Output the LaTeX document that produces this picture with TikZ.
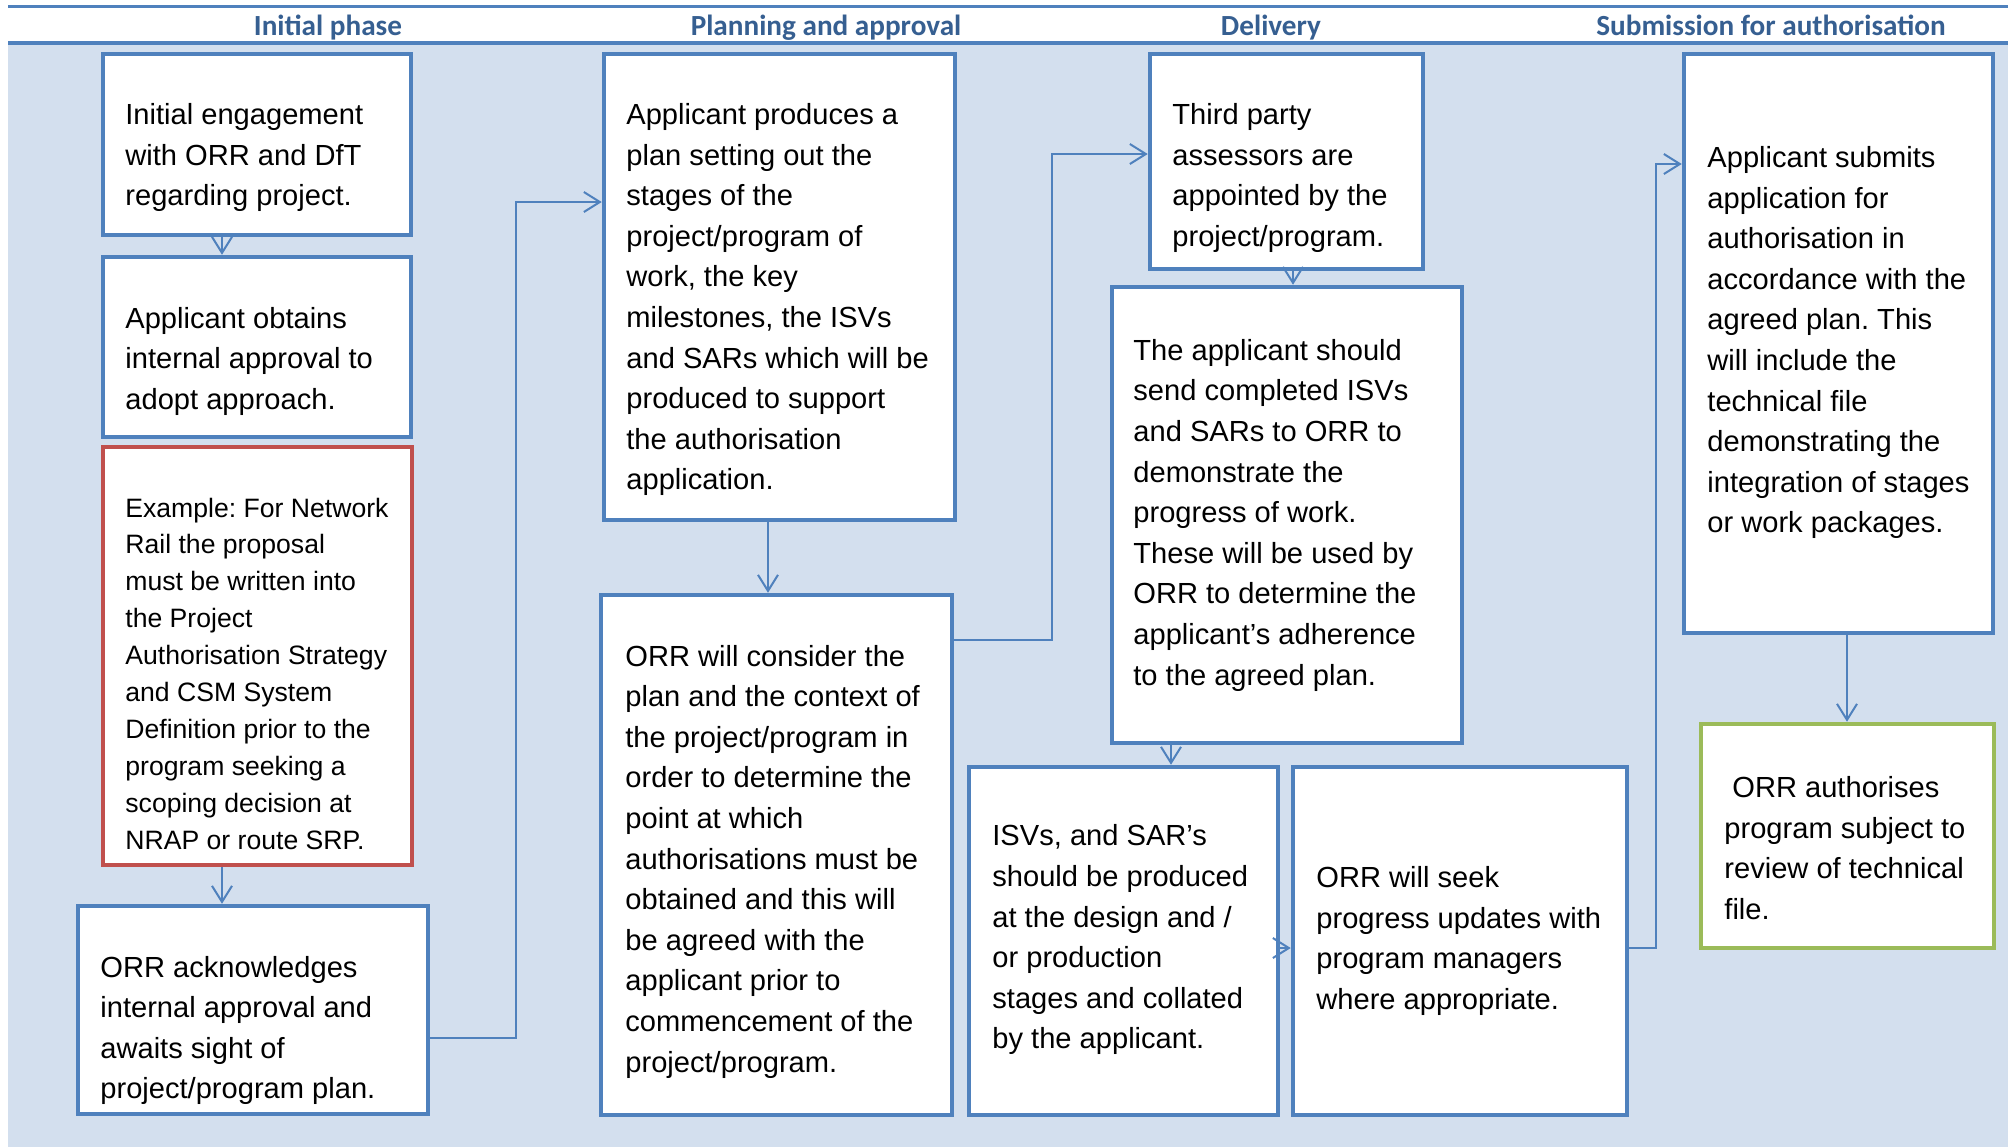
\documentclass[tikz,border=0pt]{standalone}
\usepackage{fontspec}
\setmainfont{Liberation Sans}
\newfontfamily\hdrfont{Carlito}
\usetikzlibrary{arrows.meta,fit}
\definecolor{bgblue}{HTML}{D3DFEE}
\definecolor{boxblue}{HTML}{4F81BD}
\definecolor{boxred}{HTML}{C0504D}
\definecolor{boxgreen}{HTML}{9BBB59}
\definecolor{hdrblue}{HTML}{365F91}
\frenchspacing
\begin{document}
\begin{tikzpicture}[x=0.5pt,y=-0.5pt,
  bx/.style={draw=boxblue, line width=2.25pt, fill=white, inner sep=0pt},
  bxred/.style={bx, draw=boxred},
  bxgreen/.style={bx, draw=boxgreen},
  txt/.style={anchor=north west, inner sep=0pt, align=left, text=black,
    font=\fontsize{14.55}{20.3}\selectfont\frenchspacing},
  txtsmall/.style={txt, font=\fontsize{13.3}{18.45}\selectfont\frenchspacing},
  hdr/.style={anchor=base, inner sep=0pt, text=hdrblue,
    font=\hdrfont\bfseries\fontsize{14.6}{17}\selectfont},
  arr/.style={draw=boxblue, line width=1pt, -{Straight Barb[length=8pt,width=10pt,line width=1pt]}},
]
\useasboundingbox (0,0) rectangle (2015,1147);
% background and header band
\fill[bgblue] (8,43) rectangle (2008,1147);
\fill[white] (8,6) rectangle (2008,43);
\draw[boxblue, line width=1.5pt] (8,6) -- (2008,6);
\draw[boxblue, line width=1.6pt] (8,43) -- (2008,43);
\node[hdr] (h1) at (328,35.5) {Initial phase};
\node[hdr] (h2) at (826,35.5) {Planning and approval};
\node[hdr] (h3) at (1271,35.5) {Delivery};
\node[hdr] (h4) at (1771,35.5) {Submission for authorisation};

% boxes
\node[bx, fit={(103,54) (411,235)}] (A) {};
\node[bx, fit={(103,257) (411,437)}] (B) {};
\node[bxred, fit={(103,447) (412,865)}] (C) {};
\node[bx, fit={(78,906) (428,1114)}] (D) {};
\node[bx, fit={(604,54) (955,520)}] (E) {};
\node[bx, fit={(601,595) (952,1115)}] (F) {};
\node[bx, fit={(1150,54) (1423,269)}] (G) {};
\node[bx, fit={(1112,287) (1462,743)}] (H) {};
\node[bx, fit={(969,767) (1278,1115)}] (I) {};
\node[bx, fit={(1293,767) (1627,1115)}] (J) {};
\node[bx, fit={(1684,54) (1993,633)}] (K) {};
\node[bxgreen, fit={(1701,724) (1994,948)}] (L) {};

% texts
\node[txt] (tA) at (125,95.6) {\strut Initial engagement\\with ORR and DfT\\regarding project.};
\node[txt] (tB) at (125,299.3) {\strut Applicant obtains\\internal approval to\\adopt approach.};
\node[txtsmall] (tC) at (125,490.8) {\strut Example: For Network\\Rail the proposal\\must be written into\\the Project\\Authorisation Strategy\\and CSM System\\Definition prior to the\\program seeking a\\scoping decision at\\NRAP or route SRP.};
\node[txt] (tD) at (100,948.2) {\strut ORR acknowledges\\internal approval and\\awaits sight of\\project/program plan.};
\node[txt] (tE) at (626,95.6) {\strut Applicant produces a\\plan setting out the\\stages of the\\project/program of\\work, the key\\milestones, the ISVs\\and SARs which will be\\produced to support\\the authorisation\\application.};
\node[txt] (tF) at (625,637.2) {\strut ORR will consider the\\plan and the context of\\the project/program in\\order to determine the\\point at which\\authorisations must be\\obtained and this will\\be agreed with the\\applicant prior to\\commencement of the\\project/program.};
\node[txt] (tG) at (1172,95.6) {\strut Third party\\assessors are\\appointed by the\\project/program.};
\node[txt] (tH) at (1133,331.4) {\strut The applicant should\\send completed ISVs\\and SARs to ORR to\\demonstrate the\\progress of work.\\These will be used by\\ORR to determine the\\applicant’s adherence\\to the agreed plan.};
\node[txt] (tI) at (992,817.1) {\strut ISVs, and SAR’s\\should be produced\\at the design and /\\or production\\stages and collated\\by the applicant.};
\node[txt] (tJ) at (1316,858.6) {\strut ORR will seek\\progress updates with\\program managers\\where appropriate.};
\node[txt] (tK) at (1707,138.6) {\strut Applicant submits\\application for\\authorisation in\\accordance with the\\agreed plan. This\\will include the\\technical file\\demonstrating the\\integration of stages\\or work packages.};
\node[txt] (tL) at (1724,768.6) {\strut\hspace{4pt}ORR authorises\\program subject to\\review of technical\\file.};

% connector guide coordinates
\coordinate (xAB) at (222,0);
\coordinate (yDE) at (0,1038);
\coordinate (xDE) at (516,0);
\coordinate (yE) at (0,202);
\coordinate (xEF) at (768,0);
\coordinate (yFG) at (0,640);
\coordinate (xFG) at (1052,0);
\coordinate (yG) at (0,154);
\coordinate (xGH) at (1293,0);
\coordinate (xHI) at (1171,0);
\coordinate (yIJ) at (0,948);
\coordinate (xJK) at (1656,0);
\coordinate (yK) at (0,164);
\coordinate (xKL) at (1847,0);

% connectors
\draw[arr] (A.south -| xAB) -- (B.north -| xAB);
\draw[arr] (C.south -| xAB) -- (D.north -| xAB);
\draw[arr] (D.east |- yDE) -| (xDE |- yE) -- (E.west |- yE);
\draw[arr] (E.south -| xEF) -- (F.north -| xEF);
\draw[arr] (F.east |- yFG) -| (xFG |- yG) -- (G.west |- yG);
\draw[arr] (G.south -| xGH) -- (H.north -| xGH);
\draw[arr] (H.south -| xHI) -- (I.north -| xHI);
\draw[arr] (I.east |- yIJ) -- (J.west |- yIJ);
\draw[arr] (J.east |- yIJ) -| (xJK |- yK) -- (K.west |- yK);
\draw[arr] (K.south -| xKL) -- (L.north -| xKL);
\end{tikzpicture}
\end{document}
